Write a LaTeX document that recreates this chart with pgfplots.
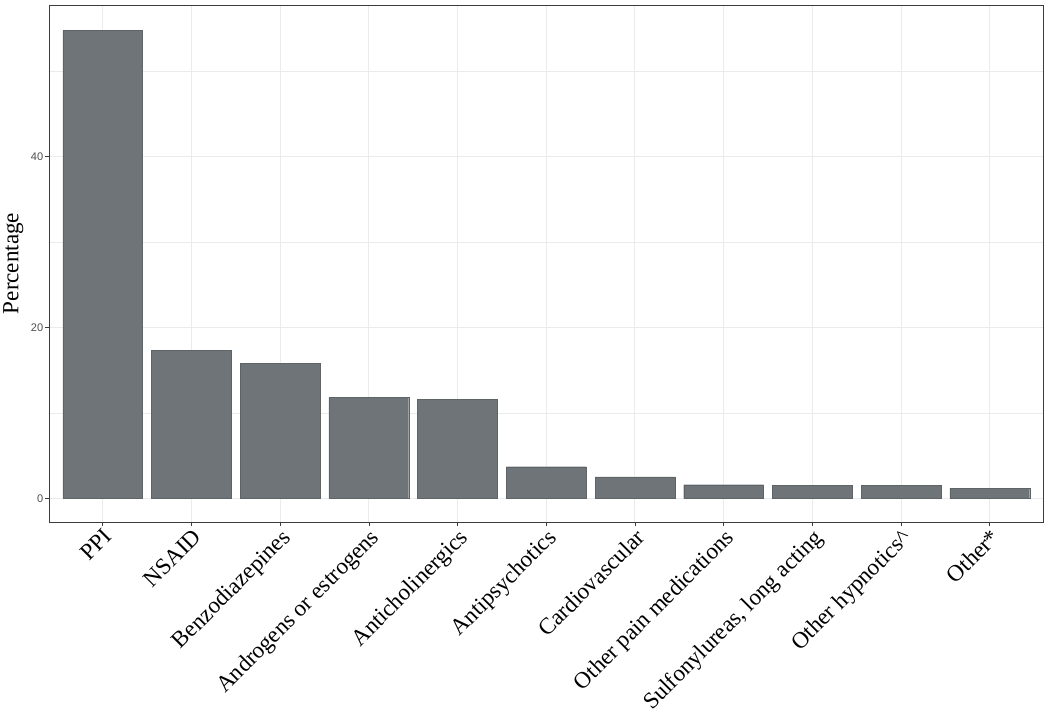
\documentclass[border=0pt]{standalone}
\usepackage{pgfplots}
\pgfplotsset{compat=1.18}
\usepackage{fontspec}
\setmainfont{Liberation Serif}
\newfontfamily\tickfont{Liberation Sans}
\definecolor{barfill}{RGB}{111,116,120}
\definecolor{gridc}{RGB}{235,235,235}
\definecolor{axisc}{RGB}{60,60,60}
\definecolor{ticktext}{RGB}{77,77,77}

\begin{document}
\begin{tikzpicture}
\begin{axis}[
    scale only axis,
    width=990pt, height=515pt,
    xmin=-0.6, xmax=10.6,
    ymin=-2.75, ymax=57.75,
    xtick={0,...,10},
    xticklabels={PPI, NSAID, Benzodiazepines, Androgens or estrogens,
        Anticholinergics, Antipsychotics, Cardiovascular,
        Other pain medications, {Sulfonylureas, long acting},
        Other hypnotics\textasciicircum, Other*},
    ytick={0,20,40},
    minor ytick={10,30,50},
    grid=both,
    major grid style={gridc, line width=0.9pt},
    minor grid style={gridc, line width=0.45pt},
    axis line style={axisc, line width=0.6pt},
    tick style={axisc, line width=0.6pt},
    tick align=outside,
    tick pos=left,
    major tick length=4pt,
    minor tick length=0pt,
    xticklabel style={rotate=45, anchor=north east, inner sep=1pt,
        font=\fontsize{23}{27}\selectfont},
    yticklabel style={font=\tickfont\fontsize{11}{13}\selectfont,
        text=ticktext, inner sep=2pt},
    /pgf/number format/assume math mode=true,
    ylabel={Percentage},
    ylabel style={font=\fontsize{23}{27}\selectfont, yshift=2pt},
]
\addplot[ybar, bar width=0.9, fill=barfill, draw=barfill!85!black, line width=0.3pt]
coordinates {(0,54.8) (1,17.3) (2,15.8) (3,11.8) (4,11.6) (5,3.7)
    (6,2.5) (7,1.6) (8,1.5) (9,1.5) (10,1.2)};
\end{axis}
\path ([xshift=7pt,yshift=5pt]current axis.north east);
\end{tikzpicture}
\end{document}
